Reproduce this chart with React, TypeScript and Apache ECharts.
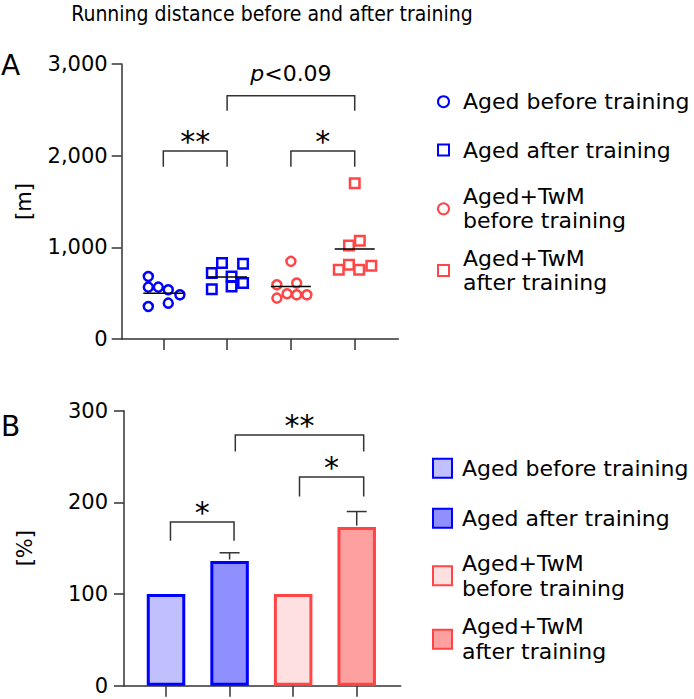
import React, { useEffect, useRef } from "react";
import * as echarts from "echarts";

const titleText = "Running distance before and after training";
const groupNames = [
  "Aged before training",
  "Aged after training",
  "Aged+TwM\nbefore training",
  "Aged+TwM\nafter training",
];
const groupPositions = [1, 2, 3, 4];

// Panel A: individual running distances [m]
const agedBefore = [682, 566, 566, 537, 482, 391, 354];
const agedBeforeJitter = [-0.235, -0.235, -0.078, 0.078, 0.26, 0.078, -0.235];
const agedAfter = [829, 821, 720, 682, 610, 573, 544];
const agedAfterJitter = [-0.08, 0.25, -0.24, 0.07, 0.25, 0.07, -0.24];
const twmBefore = [847, 610, 591, 446, 493, 482, 482];
const twmBeforeJitter = [0, 0.09, -0.22, -0.22, -0.06, 0.09, 0.25];
const twmAfter = [1698, 1073, 1019, 810, 756, 756, 800];
const twmAfterJitter = [0, 0.08, -0.09, -0.09, -0.25, 0.07, 0.26];
const groupMeansA = [500, 676, 573, 982];
const yTicksA = [0, 1000, 2000, 3000];

// Panel B: relative distance [%]
const percentMeans = [100, 136, 100, 173];
const percentSem = [0, 9, 0, 17];
const yTicksB = [0, 100, 200, 300];

// significance brackets: x1, x2 (group positions), top, bottom, label, labelY
const bracketsA = [
  { x1: 1, x2: 2, top: 2051, bottom: 1880, label: "**", labelY: 2223 },
  { x1: 3, x2: 4, top: 2051, bottom: 1880, label: "*", labelY: 2223 },
  { x1: 2, x2: 4, top: 2654, bottom: 2490, label: "{i|p}<0.09", labelY: 2891 },
];
const bracketsB = [
  { x1: 1.07, x2: 2.07, top: 178.5, bottom: 158, label: "*", labelY: 196 },
  { x1: 3.1, x2: 4.11, top: 227.6, bottom: 206.4, label: "*", labelY: 244.6 },
  { x1: 2.09, x2: 4.11, top: 273.4, bottom: 255.5, label: "**", labelY: 290 },
];

const BLUE = "#0000ff";
const RED = "#ff4545";
const barFills = ["#c0c0ff", "#8f8fff", "#ffe0e0", "#ffa0a0"];
const barBorders = [BLUE, BLUE, RED, "#ff4444"];
const FONT = "DejaVu Sans";
const ZW = "\u200b";

export default function App() {
  const ref = useRef<HTMLDivElement>(null);
  useEffect(() => {
    if (!ref.current) return;
    const chart = echarts.init(ref.current, null, { renderer: "svg" });

    const pointSets = [
      { vals: agedBefore, jit: agedBeforeJitter, symbol: "circle", color: BLUE },
      { vals: agedAfter, jit: agedAfterJitter, symbol: "rect", color: BLUE },
      { vals: twmBefore, jit: twmBeforeJitter, symbol: "circle", color: RED },
      { vals: twmAfter, jit: twmAfterJitter, symbol: "rect", color: RED },
    ];

    const axisLineStyle = { color: "#333", width: 1.5 };
    const labelStyle = { fontFamily: FONT, fontSize: 21, color: "#000" };

    const bracketRender = (list: any[]) => (params: any, api: any) => {
      const b = list[params.dataIndex];
      const lb = api.coord([b.x1, b.bottom]);
      const lt = api.coord([b.x1, b.top]);
      const rt = api.coord([b.x2, b.top]);
      const rb = api.coord([b.x2, b.bottom]);
      const tp = api.coord([(b.x1 + b.x2) / 2, b.labelY]);
      const isStar = b.label.indexOf("*") >= 0 && b.label.indexOf("{") < 0;
      return {
        type: "group",
        children: [
          {
            type: "polyline",
            shape: { points: [lb, lt, rt, rb] },
            style: { stroke: "#333", lineWidth: 1.5, fill: null },
          },
          {
            type: "text",
            x: tp[0],
            y: tp[1] + (isStar ? 6 : 0),
            style: {
              text: b.label,
              fontFamily: FONT,
              fontSize: isStar ? 30 : 22,
              fill: "#000",
              align: "center",
              verticalAlign: "middle",
              rich: { i: { fontStyle: "italic", fontFamily: FONT, fontSize: 22, fill: "#000" } },
            },
          },
        ],
      };
    };

    const legendBase = {
      orient: "vertical",
      padding: 0,
      textStyle: { fontFamily: FONT, fontSize: 22, color: "#000", lineHeight: 24 },
      selectedMode: false,
    };
    const legendTopsA = [89.7, 138, 184.8, 246.5];
    const legendTopsB = [455.8, 505.8, 550.8, 614.2];

    const legends: any[] = [];
    groupNames.forEach((n, i) => {
      legends.push({
        ...legendBase,
        left: 437,
        top: legendTopsA[i],
        itemWidth: 11,
        itemHeight: 11,
        data: [n + ZW],
        textStyle: { ...legendBase.textStyle, padding: [0, 0, 0, 9] },
      });
    });
    groupNames.forEach((n, i) => {
      legends.push({
        ...legendBase,
        left: 432,
        top: legendTopsB[i],
        itemWidth: 19,
        itemHeight: 19,
        icon: "rect",
        data: [n],
        textStyle: { ...legendBase.textStyle, lineHeight: 25, padding: [0, 0, 0, 5] },
      });
    });

    const option: any = {
      animation: false,
      graphic: [
        {
          type: "text",
          x: 272,
          y: 14,
          style: {
            text: titleText,
            fontFamily: "DejaVu Sans Condensed, Liberation Sans Narrow, Liberation Sans",
            fontSize: 21,
            fill: "#000",
            align: "center",
            verticalAlign: "middle",
          },
        },
        { type: "text", x: 1, y: 51, style: { text: "A", fontFamily: FONT, fontSize: 28, fill: "#000" } },
        { type: "text", x: 1, y: 412, style: { text: "B", fontFamily: FONT, fontSize: 28, fill: "#000" } },
      ],
      legend: legends,
      grid: [
        { left: 121.7, right: 295.7, top: 64, bottom: 360 },
        { left: 124, right: 293.3, top: 410.7, bottom: 13.3 },
      ],
      xAxis: [
        {
          gridIndex: 0,
          type: "value",
          min: 0.348,
          max: 4.683,
          axisLine: { show: true, lineStyle: axisLineStyle },
          axisTick: { show: true, customValues: groupPositions, length: 11, lineStyle: axisLineStyle },
          axisLabel: { show: false },
          splitLine: { show: false },
        },
        {
          gridIndex: 1,
          type: "value",
          min: 0.339,
          max: 4.692,
          axisLine: { show: true, lineStyle: axisLineStyle },
          axisTick: { show: true, customValues: groupPositions, length: 11, lineStyle: axisLineStyle },
          axisLabel: { show: false },
          splitLine: { show: false },
        },
      ],
      yAxis: [
        {
          gridIndex: 0,
          type: "value",
          min: yTicksA[0],
          max: yTicksA[yTicksA.length - 1],
          interval: yTicksA[1] - yTicksA[0],
          name: "[m]",
          nameLocation: "middle",
          nameGap: 87,
          nameMoveOverlap: false,
          nameTextStyle: { ...labelStyle },
          axisLine: { show: true, lineStyle: axisLineStyle },
          axisTick: { show: true, length: 10, lineStyle: axisLineStyle },
          axisLabel: {
            ...labelStyle,
            margin: 14,
            formatter: (v: number) => v.toLocaleString("en-US"),
          },
          splitLine: { show: false },
        },
        {
          gridIndex: 1,
          type: "value",
          min: yTicksB[0],
          max: yTicksB[yTicksB.length - 1],
          interval: yTicksB[1] - yTicksB[0],
          name: "[%]",
          nameLocation: "middle",
          nameGap: 89,
          nameMoveOverlap: false,
          nameTextStyle: { ...labelStyle },
          axisLine: { show: true, lineStyle: axisLineStyle },
          axisTick: { show: true, length: 10, lineStyle: axisLineStyle },
          axisLabel: { ...labelStyle, margin: 16 },
          splitLine: { show: false },
        },
      ],
      series: [
        ...pointSets.map((p, i) => ({
          type: "scatter",
          name: groupNames[i] + ZW,
          xAxisIndex: 0,
          yAxisIndex: 0,
          symbol: p.symbol,
          symbolSize: p.symbol === "circle" ? 9 : 9.5,
          itemStyle: { color: "#fff", opacity: 1, borderColor: p.color, borderWidth: 2.5 },
          data: p.vals.map((v, k) => [groupPositions[i] + p.jit[k], v]),
          z: 3,
        })),
        {
          type: "custom",
          name: "meansA",
          xAxisIndex: 0,
          yAxisIndex: 0,
          data: groupMeansA.map((m, i) => [groupPositions[i], m]),
          renderItem: (params: any, api: any) => {
            const c = api.coord([api.value(0), api.value(1)]);
            return {
              type: "line",
              shape: { x1: c[0] - 20, y1: c[1], x2: c[0] + 20, y2: c[1] },
              style: { stroke: "#000", lineWidth: 1.5 },
            };
          },
          z: 5,
        },
        {
          type: "custom",
          name: "bracketsA",
          xAxisIndex: 0,
          yAxisIndex: 0,
          data: bracketsA.map((b) => [b.x1, b.top]),
          renderItem: bracketRender(bracketsA),
          z: 5,
        },
        ...groupNames.map((n, i) => ({
          type: "bar",
          name: n,
          xAxisIndex: 1,
          yAxisIndex: 1,
          barWidth: 38.5,
          barGap: "-100%",
          itemStyle: { color: barFills[i], borderColor: barBorders[i], borderWidth: 3 },
          data: [[groupPositions[i], percentMeans[i]]],
          z: 2,
        })),
        {
          type: "custom",
          name: "errB",
          xAxisIndex: 1,
          yAxisIndex: 1,
          data: percentMeans.map((m, i) => [groupPositions[i], m, percentSem[i]]),
          renderItem: (params: any, api: any) => {
            const x = api.value(0);
            const m = api.value(1);
            const s = api.value(2);
            if (!s) return { type: "group", children: [] };
            const lo = api.coord([x, m]);
            const hi = api.coord([x, m + s]);
            return {
              type: "group",
              children: [
                { type: "line", shape: { x1: lo[0], y1: lo[1] - 1.5, x2: hi[0], y2: hi[1] }, style: { stroke: "#333", lineWidth: 1.5 } },
                { type: "line", shape: { x1: hi[0] - 10, y1: hi[1], x2: hi[0] + 10, y2: hi[1] }, style: { stroke: "#333", lineWidth: 1.5 } },
              ],
            };
          },
          z: 5,
        },
        {
          type: "custom",
          name: "bracketsB",
          xAxisIndex: 1,
          yAxisIndex: 1,
          data: bracketsB.map((b) => [b.x1, b.top]),
          renderItem: bracketRender(bracketsB),
          z: 5,
        },
      ],
    };
    chart.setOption(option);
    return () => chart.dispose();
  }, []);

  return (
    <div
      ref={ref}
      style={{ position: "fixed", left: 0, top: 0, width: 694, height: 699, background: "#fff" }}
    />
  );
}
